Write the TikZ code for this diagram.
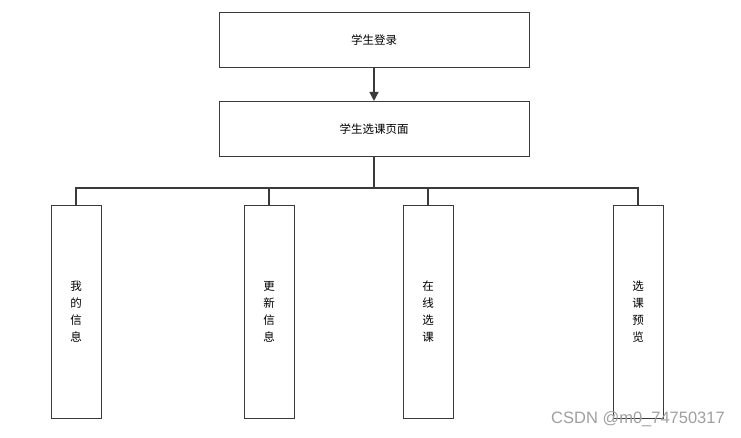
\documentclass[tikz,border=0pt]{standalone}
\usepackage{fontspec}
\setmainfont{Liberation Sans}
\newfontfamily\cjk{Noto Sans CJK SC}
\usetikzlibrary{arrows.meta, positioning}
\definecolor{stLine}{HTML}{3A3A3A}
\definecolor{stMark}{HTML}{A0A0A0}
\tikzset{
  stnode/.style={
    draw=stLine, line width=0.9pt, fill=white, inner sep=0pt,
    font=\cjk\fontsize{11.5}{17}\selectfont, align=center
  },
  pagebox/.style={stnode, minimum width=310pt, minimum height=55pt},
  funcbox/.style={stnode, minimum width=50pt, minimum height=213pt},
  flow/.style={-{Triangle[length=9pt, width=9pt]}, line width=1.3pt, stLine},
  tree/.style={line width=1.3pt, stLine},
  wmark/.style={font=\fontsize{16.5}{16.5}\selectfont, text=stMark, inner sep=0pt}
}
\begin{document}
\begin{tikzpicture}[x=1pt, y=-1pt]
  \useasboundingbox[fill=white] (0,0) rectangle (741,437);
  \node[pagebox] (login) at (374,40) {学生登录};
  \node[pagebox, below=33pt of login] (select) {学生选课页面};
  \node[funcbox] (info) at (76,311.5) {我\\的\\信\\息};
  \node[funcbox] (update) at (269,311.5) {更\\新\\信\\息};
  \node[funcbox] (online) at (428,311.5) {在\\线\\选\\课};
  \node[funcbox] (preview) at (638,311.5) {选\\课\\预\\览};
  \coordinate (hub) at (374,188);
  \draw[flow] (login) -- (select);
  \draw[tree] (select) -- (hub);
  \draw[tree] (info.north) |- (hub) -| (preview.north);
  \draw[tree] (update.north) -- (update.north |- hub);
  \draw[tree] (online.north) -- (online.north |- hub);
  \node[wmark] (wm) at (638,419) {CSDN @m0\_74750317};
\end{tikzpicture}
\end{document}
